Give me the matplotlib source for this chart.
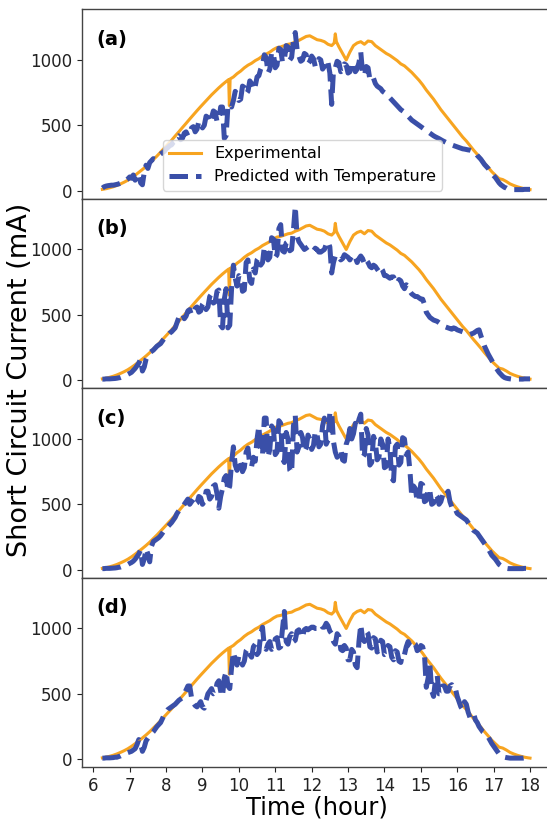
import numpy as np
import matplotlib
matplotlib.use("Agg")
import matplotlib.pyplot as plt

# Measured short-circuit current (mA) against hour of day
exp_hours = [
    6.25, 6.35, 6.45, 6.55, 6.65, 6.75, 6.85, 6.95, 7.05, 7.15,
    7.25, 7.35, 7.45, 7.55, 7.65, 7.75, 7.85, 7.95, 8.05, 8.15,
    8.25, 8.35, 8.45, 8.55, 8.65, 8.75, 8.85, 8.95, 9.05, 9.15,
    9.25, 9.35, 9.45, 9.55, 9.65, 9.72, 9.74, 9.76, 9.85, 9.95,
    10.05, 10.15, 10.25, 10.35, 10.45, 10.55, 10.65, 10.75, 10.85, 10.95,
    11.05, 11.15, 11.25, 11.35, 11.45, 11.55, 11.65, 11.75, 11.85, 11.95,
    12.05, 12.15, 12.25, 12.35, 12.45, 12.55, 12.62, 12.65, 12.68, 12.75,
    12.85, 12.95, 13.05, 13.15, 13.25, 13.35, 13.45, 13.55, 13.65, 13.75,
    13.85, 13.95, 14.05, 14.15, 14.25, 14.35, 14.45, 14.55, 14.65, 14.75,
    14.85, 14.95, 15.05, 15.15, 15.25, 15.35, 15.45, 15.55, 15.65, 15.75,
    15.85, 15.95, 16.05, 16.15, 16.25, 16.35, 16.45, 16.55, 16.65, 16.75,
    16.85, 16.95, 17.05, 17.15, 17.25, 17.35, 17.45, 17.55, 17.65, 17.75,
    17.85, 17.95, 18.0,
]
experimental = [
    10, 15, 22, 30, 40, 52, 65, 80, 98, 118,
    140, 162, 185, 210, 238, 265, 295, 325, 355, 385,
    418, 450, 483, 515, 548, 580, 612, 643, 673, 703,
    733, 760, 787, 812, 835, 850, 650, 855, 870, 895,
    915, 940, 960, 975, 995, 1010, 1030, 1045, 1060, 1080,
    1095, 1100, 1110, 1120, 1125, 1140, 1150, 1165, 1180, 1185,
    1170, 1155, 1150, 1140, 1120, 1110, 1130, 1200, 1140, 1100,
    1050, 1000, 1060, 1110, 1130, 1140, 1120, 1145, 1140, 1110,
    1090, 1070, 1050, 1035, 1015, 995, 970, 955, 930, 905,
    875, 845, 810, 770, 735, 700, 660, 620, 585, 550,
    515, 480, 445, 410, 380, 345, 310, 278, 245, 210,
    178, 145, 118, 92, 85, 70, 52, 40, 30, 22,
    15, 10, 8,
]

# Predicted short-circuit current (mA), sampled every 0.05 h from 6.25 to 18.00
pred_hours = np.round(np.linspace(6.25, 18.0, 236), 2)

predicted_a = [
    20, 30, 35, 38, 40, 42, 42, 45, 48, 52, 58, 62, 70, 80, 90, 105, 95, 120, 80, 110,
    130, 60, 45, 140, 195, 170, 215, 230, 245, 240, 260, 270, 280, 290, 300, 320, 330, 345, 350, 370,
    380, 410, 420, 390, 400, 440, 450, 420, 430, 480, 490, 450, 470, 530, 520, 480, 500, 570, 560, 520,
    560, 610, 600, 530, 540, 640, 640, 400, 420, 650, 660, 640, 690, 760, 740, 690, 700, 800, 790, 740,
    760, 840, 820, 770, 800, 870, 880, 930, 960, 1040, 1020, 900, 930, 1060, 1050, 940, 960, 1090, 1080, 980,
    1000, 1110, 1100, 1000, 1020, 1150, 1210, 1080, 1030, 990, 1000, 1050, 1040, 970, 990, 1030, 1010, 950, 960, 1010,
    1000, 930, 950, 1000, 980, 900, 660, 920, 940, 990, 980, 910, 920, 970, 960, 900, 910, 980, 970, 910,
    930, 980, 1060, 900, 880, 950, 940, 850, 840, 860, 820, 800, 790, 780, 760, 750, 740, 720, 710, 695,
    680, 665, 650, 635, 620, 610, 600, 585, 570, 555, 540, 530, 520, 510, 500, 490, 480, 470, 460, 450,
    440, 430, 420, 412, 405, 398, 390, 382, 375, 368, 360, 355, 350, 345, 340, 335, 330, 325, 320, 318,
    315, 312, 310, 305, 300, 290, 270, 255, 240, 220, 200, 185, 170, 150, 130, 115, 100, 80, 60, 45,
    35, 25, 20, 12, 10, 8, 8, 8, 8, 8, 8, 8, 10, 10, 10, 10,
]

predicted_b = [
    8, 8, 10, 10, 10, 11, 12, 13, 15, 18, 20, 25, 30, 38, 45, 52, 60, 75, 90, 110,
    130, 160, 70, 100, 160, 190, 210, 220, 230, 245, 260, 270, 280, 300, 320, 335, 345, 360, 370, 385,
    400, 440, 480, 500, 510, 470, 490, 530, 540, 500, 510, 550, 560, 520, 530, 580, 600, 540, 560, 640,
    660, 590, 600, 680, 690, 420, 400, 620, 700, 400, 420, 700, 880, 780, 720, 800, 780, 680, 690, 900,
    920, 760, 740, 850, 820, 920, 940, 880, 900, 1020, 1000, 920, 940, 1090, 1080, 940, 960, 1160, 1190, 990,
    980, 1050, 1060, 990, 1000, 1150, 1330, 1100, 1060, 1040, 1020, 1000, 1010, 1020, 1000, 990, 990, 1010, 1000, 980,
    980, 990, 1000, 1040, 1060, 1020, 820, 900, 950, 960, 940, 920, 930, 960, 950, 940, 920, 950, 960, 940,
    900, 930, 950, 930, 890, 920, 900, 870, 860, 880, 870, 850, 830, 860, 840, 800, 800, 790, 780, 790,
    790, 760, 740, 770, 760, 720, 700, 730, 720, 680, 660, 650, 640, 640, 630, 620, 620, 580, 520, 500,
    480, 470, 460, 455, 450, 440, 430, 420, 410, 405, 400, 395, 390, 400, 395, 385, 380, 375, 370, 365,
    360, 355, 350, 355, 360, 370, 380, 385, 340, 300, 260, 230, 200, 175, 150, 125, 100, 80, 60, 45,
    30, 20, 15, 12, 10, 8, 8, 8, 8, 8, 8, 8, 10, 10, 10, 10,
]

predicted_c = [
    8, 8, 10, 10, 10, 11, 12, 13, 15, 18, 20, 25, 30, 35, 40, 48, 55, 65, 80, 100,
    120, 150, 40, 80, 160, 120, 60, 180, 215, 225, 235, 245, 260, 280, 300, 315, 330, 345, 360, 380,
    400, 430, 450, 470, 480, 500, 520, 540, 500, 520, 540, 500, 510, 560, 550, 500, 520, 600, 600, 540,
    560, 640, 650, 580, 470, 560, 620, 700, 720, 600, 640, 820, 940, 800, 760, 840, 820, 750, 780, 900,
    930, 800, 790, 860, 830, 1000, 1100, 900, 880, 1160, 1160, 860, 920, 1100, 1080, 880, 900, 1140, 1120, 850,
    820, 1050, 1000, 760, 740, 1100, 1180, 900, 940, 1050, 1010, 900, 930, 1030, 1000, 920, 950, 1060, 1030, 940,
    960, 1100, 1160, 960, 990, 1200, 1210, 980, 900, 860, 880, 920, 840, 830, 960, 1000, 1080, 1000, 1040, 1120,
    1090, 1150, 1190, 860, 880, 1080, 1030, 800, 820, 1020, 980, 840, 860, 1000, 960, 780, 790, 1000, 930, 700,
    680, 940, 960, 800, 820, 1010, 1000, 880, 900, 760, 560, 640, 620, 520, 540, 660, 650, 520, 530, 620,
    600, 500, 510, 580, 560, 500, 520, 570, 550, 580, 600, 520, 480, 490, 460, 430, 420, 410, 400, 390,
    380, 360, 340, 320, 300, 290, 280, 260, 240, 220, 200, 180, 160, 135, 110, 95, 80, 60, 40, 30,
    20, 15, 10, 8, 8, 8, 8, 8, 8, 8, 8, 8, 10, 10, 10, 10,
]

predicted_d = [
    8, 8, 10, 10, 10, 11, 12, 15, 15, 20, 25, 32, 40, 45, 50, 55, 60, 70, 80, 110,
    150, 120, 60, 90, 140, 160, 180, 195, 210, 230, 250, 265, 280, 310, 340, 360, 380, 390, 400, 410,
    420, 435, 450, 460, 470, 500, 530, 560, 560, 470, 430, 410, 400, 420, 440, 400, 390, 450, 500, 520,
    540, 500, 510, 580, 600, 520, 480, 620, 670, 560, 540, 700, 820, 760, 720, 790, 780, 720, 750, 830,
    850, 800, 780, 860, 880, 800, 820, 960, 1010, 860, 840, 880, 900, 840, 850, 920, 930, 850, 860, 1000,
    1130, 900, 880, 940, 960, 900, 910, 980, 990, 930, 940, 990, 1000, 990, 1000, 1010, 1010, 1000, 1000, 1020,
    1030, 1010, 1010, 1040, 1020, 980, 960, 900, 880, 960, 940, 840, 830, 870, 850, 760, 760, 840, 820, 720,
    700, 900, 1030, 920, 900, 980, 960, 860, 850, 930, 920, 820, 830, 910, 900, 800, 810, 870, 860, 780,
    760, 830, 820, 750, 740, 810, 800, 860, 900, 870, 860, 890, 880, 830, 840, 870, 860, 800, 550, 620,
    720, 520, 480, 600, 640, 500, 500, 560, 560, 520, 520, 560, 570, 540, 540, 480, 440, 400, 380, 440,
    420, 360, 320, 340, 350, 300, 280, 250, 230, 210, 200, 185, 170, 145, 120, 100, 80, 60, 40, 30,
    25, 15, 12, 10, 8, 8, 8, 8, 8, 8, 8, 8, 10, 10, 10, 10,
]

panel_tags = ["(a)", "(b)", "(c)", "(d)"]
predicted_sets = [predicted_a, predicted_b, predicted_c, predicted_d]
hour_ticks = list(range(6, 19))
current_ticks = [0, 500, 1000]

ORANGE = "#f7a420"
BLUE = "#3a4fa8"

fig = plt.figure(figsize=(5.47, 8.23), dpi=100)

left, width = 0.1499, 0.8583
top, bottom = 0.98906, 0.06804
h = (top - bottom) / 4

axes = []
for i, (tag, pred) in enumerate(zip(panel_tags, predicted_sets)):
    ax = fig.add_axes([left, top - (i + 1) * h, width, h])
    axes.append(ax)
    ax.plot(exp_hours, experimental, color=ORANGE, lw=2.2,
            label="Experimental", zorder=2)
    ax.plot(pred_hours, pred, color=BLUE, lw=3.6, ls="--",
            label="Predicted with Temperature", zorder=3)
    ax.set_xlim(5.69, 18.59)
    ax.set_ylim(-60, 1390)
    ax.set_yticks(current_ticks)
    ax.set_xticks(hour_ticks)
    ax.tick_params(labelsize=12, colors="#222222")
    for sp in ax.spines.values():
        sp.set_color("#444444")
        sp.set_linewidth(1.0)
    ax.text(0.03, 0.84, tag, transform=ax.transAxes, fontsize=14,
            fontweight="bold", va="center", ha="left")
    if i < 3:
        ax.tick_params(axis="x", length=0, labelbottom=False)

axes[0].legend(loc="lower center", bbox_to_anchor=(0.47, 0.0), fontsize=11.5,
               handlelength=2.0, framealpha=0.8)

fig.text((82 + 551.5) / 2 / 547, 1 - 808 / 823, "Time (hour)",
         ha="center", va="center", fontsize=17.5)
fig.text(20 / 547, 1 - 380 / 823, "Short Circuit Current (mA)", rotation=90,
         ha="center", va="center", fontsize=19.5)

fig.savefig("out.png", dpi=100)
